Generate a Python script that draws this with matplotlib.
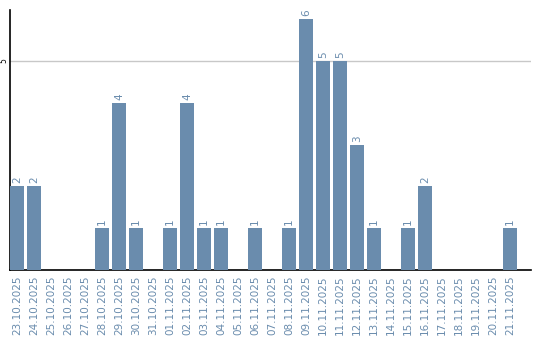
import matplotlib
matplotlib.use("Agg")
import matplotlib.pyplot as plt
import numpy as np

# daily counts
dates = ['23.10.2025', '24.10.2025', '25.10.2025', '26.10.2025', '27.10.2025',
         '28.10.2025', '29.10.2025', '30.10.2025', '31.10.2025', '01.11.2025',
         '02.11.2025', '03.11.2025', '04.11.2025', '05.11.2025', '06.11.2025',
         '07.11.2025', '08.11.2025', '09.11.2025', '10.11.2025', '11.11.2025',
         '12.11.2025', '13.11.2025', '14.11.2025', '15.11.2025', '16.11.2025',
         '17.11.2025', '18.11.2025', '19.11.2025', '20.11.2025', '21.11.2025']
counts = [2, 2, 0, 0, 0, 1, 4, 1, 0, 1, 4, 1, 1, 0, 1,
          0, 1, 6, 5, 5, 3, 1, 0, 1, 2, 0, 0, 0, 0, 1]

bar_color = '#6a8cad'
text_color = '#6a8cad'

fig = plt.figure(figsize=(5.4, 3.4), dpi=100)
ax = fig.add_axes([10 / 540, 70 / 340, 521 / 540, 260 / 340])

x = np.arange(len(dates))
w = 0.82
ax.bar(x, counts, width=w, color=bar_color, zorder=3)
for xi, c in zip(x, counts):
    if c > 0:
        ax.text(xi, c + 0.07, str(c), rotation=90, ha='center', va='bottom',
                fontsize=7.5, color=text_color)

ax.set_xlim(-w / 2, 30.24)
ax.set_ylim(0, 6.22)
ax.set_yticks([5])
ax.set_yticklabels(['5'], rotation=90, va='center', fontsize=5.5)
ax.yaxis.grid(True, color='#c8c8c8', linewidth=1, zorder=0)
ax.tick_params(axis='y', length=0, pad=1)

ax.set_xticks(x)
ax.set_xticklabels(dates, rotation=90, fontsize=7.5, color=text_color)
ax.tick_params(axis='x', length=0, pad=4)

ax.spines['top'].set_visible(False)
ax.spines['right'].set_visible(False)
ax.spines['left'].set_linewidth(1.2)
ax.spines['bottom'].set_linewidth(1.2)

plt.savefig('out.png', dpi=100)
